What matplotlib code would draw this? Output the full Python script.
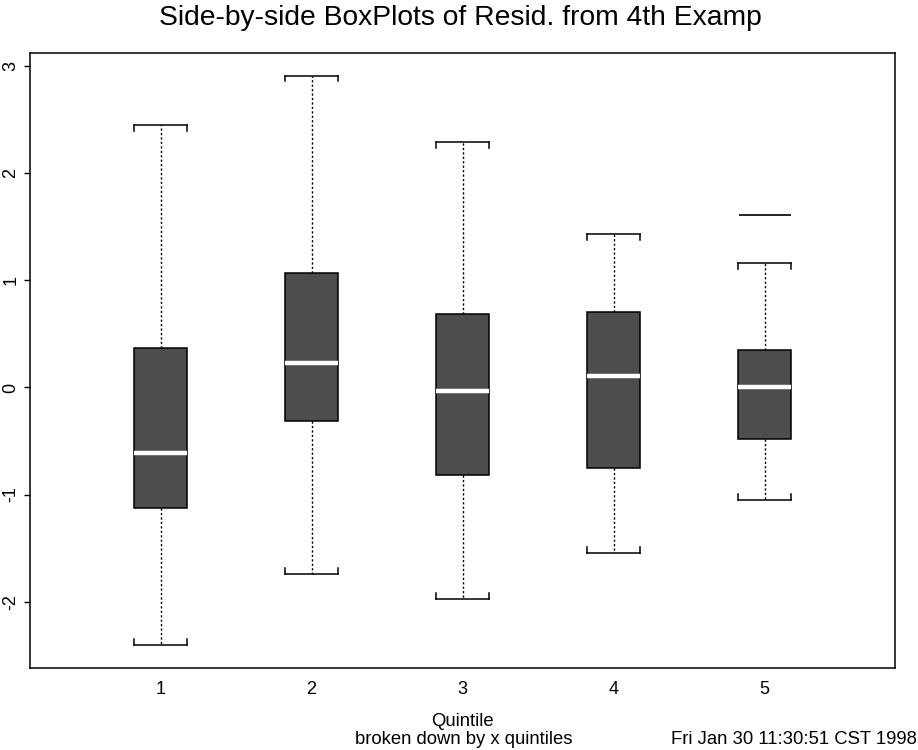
import matplotlib
matplotlib.use('Agg')
import matplotlib.pyplot as plt

plt.rcParams['font.family'] = ['Liberation Sans', 'DejaVu Sans']

# five-number summaries, one per quintile
quintiles = [1, 2, 3, 4, 5]
whisk_lo = [-2.407, -1.744, -1.975, -1.548, -1.054]
q1 = [-1.128, -0.316, -0.820, -0.755, -0.484]
med = [-0.612, 0.231, -0.034, 0.106, 0.004]
q3 = [0.365, 1.065, 0.682, 0.701, 0.346]
whisk_hi = [2.452, 2.913, 2.288, 1.429, 1.158]
outliers = [[], [], [], [], [1.609]]

yticks = [-2, -1, 0, 1, 2, 3]

stats = []
for i in range(len(quintiles)):
    stats.append({'whislo': whisk_lo[i], 'q1': q1[i], 'med': med[i],
                  'q3': q3[i], 'whishi': whisk_hi[i], 'fliers': outliers[i]})

fig = plt.figure(figsize=(9.18, 7.5), dpi=100)
ax = fig.add_axes([0.033, 0.109, 0.942, 0.821])

bw = 0.35
ax.bxp(stats, positions=quintiles, widths=bw, capwidths=bw, patch_artist=True,
       boxprops=dict(facecolor='#4d4d4d', edgecolor='black', linewidth=1.1),
       medianprops=dict(color='white', linewidth=3.2, solid_capstyle='butt'),
       whiskerprops=dict(color='black', linewidth=1.0, linestyle=(0, (1.6, 1.6))),
       capprops=dict(color='black', linewidth=1.1),
       flierprops=dict(marker='_', markersize=bw * 151 * 0.72, markeredgewidth=1.2,
                       markeredgecolor='black'))

# small end ticks on the caps, pointing back toward the box
tick_h = 0.055
for i, x in enumerate(quintiles):
    for xe in (x - bw / 2, x + bw / 2):
        ax.plot([xe, xe], [whisk_hi[i], whisk_hi[i] - tick_h], color='black', lw=1.1)
        ax.plot([xe, xe], [whisk_lo[i], whisk_lo[i] + tick_h], color='black', lw=1.1)

ax.set_xlim(0.137, 5.864)
ax.set_ylim(-2.622, 3.128)
ax.set_yticks(yticks)
ax.set_yticklabels([str(t) for t in yticks], rotation=90, va='center', fontsize=13)
ax.set_xticks(quintiles)
ax.set_xticklabels([str(q) for q in quintiles], fontsize=13)
ax.tick_params(axis='y', length=4, width=1, pad=4)
ax.tick_params(axis='x', length=0, pad=9)
for s in ax.spines.values():
    s.set_linewidth(1.1)

fig.text(0.502, 0.993, 'Side-by-side BoxPlots of Resid. from 4th Examp',
         ha='center', va='top', fontsize=20.3)
fig.text(462 / 918, 1 - 722 / 750, 'Quintile', ha='center', va='center', fontsize=13.3)
fig.text(464 / 918, 1 - 740 / 750, 'broken down by x quintiles', ha='center', va='center', fontsize=13.3)
fig.text(0.999, 1 - 740 / 750, 'Fri Jan 30 11:30:51 CST 1998', ha='right', va='center', fontsize=13.3)

fig.savefig('out.png', dpi=100)
